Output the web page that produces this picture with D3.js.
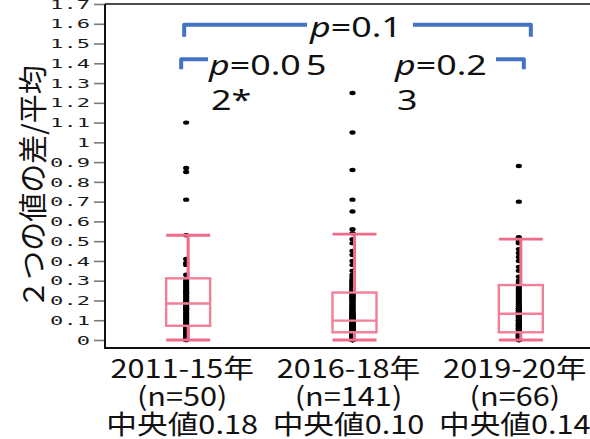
<!DOCTYPE html>
<html><head><meta charset="utf-8">
<script src="https://cdn.jsdelivr.net/npm/d3@7"></script>
<style>html,body{margin:0;padding:0;background:#fff;}svg{display:block;}</style>
</head><body>
<script>
// ---------- data ----------
const categories = ["2011-15年", "2016-18年", "2019-20年"];
const nLabels = ["(n=50)", "(n=141)", "(n=66)"];
const medianLabels = ["中央値0.18", "中央値0.10", "中央値0.14"];
const yTickValues = [0,0.1,0.2,0.3,0.4,0.5,0.6,0.7,0.8,0.9,1,1.1,1.2,1.3,1.4,1.5,1.6,1.7];
const yTickLabels = ["0","0.1","0.2","0.3","0.4","0.5","0.6","0.7","0.8","0.9","1","1.1","1.2","1.3","1.4","1.5","1.6","1.7"];
const yTitle = "２つの値の差/平均";

// box statistics
const whiskerLow = [0, 0, 0];
const q1 = [0.072, 0.039, 0.039];
const median = [0.185, 0.098, 0.133];
const q3 = [0.312, 0.24, 0.278];
const whiskerHigh = [0.53, 0.536, 0.51];

// individual points
const points2011 = [1.10,0.87,0.85,0.71,0.53,0.41,0.39,0.38,0.33,0.31,0.30,0.29,0.28,
  0.27,0.26,0.25,0.24,0.24,0.23,0.22,0.21,0.20,0.19,0.19,0.18,0.18,
  0.17,0.16,0.16,0.15,0.14,0.13,0.12,0.11,0.10,0.09,0.08,
  0.07,0.07,0.06,0.05,0.05,0.04,0.03,0.03,0.02,0.01,0.01,0.00,0.00];
const points2016 = [1.25,1.05,0.86,0.71,0.65,
  0.56,0.54,0.51,0.49,0.45,0.43,0.40,0.38,0.35,0.33,
  0.32,0.31,0.30,0.30,0.29,0.29,0.28,0.28,0.27,0.27,
  0.26,0.26,0.25,0.25,0.25,0.24,0.24,0.24,0.24,0.24,
  0.23,0.23,0.22,0.22,0.22,0.21,0.21,0.20,0.20,0.19,
  0.19,0.18,0.18,0.17,0.17,0.16,0.16,0.15,0.15,0.15,
  0.14,0.14,0.13,0.13,0.13,0.12,0.12,0.12,0.11,0.11,
  0.11,0.11,0.10,0.10,0.10,0.10,
  0.10,0.09,0.09,0.09,0.09,0.08,0.08,0.08,0.08,0.08,
  0.07,0.07,0.07,0.07,0.07,0.06,0.06,0.06,0.06,0.06,
  0.05,0.05,0.05,0.05,0.05,0.05,0.04,0.04,0.04,0.04,
  0.04,0.04,0.04,0.04,0.04,
  0.03,0.03,0.03,0.03,0.03,0.03,0.03,0.03,0.03,0.03,
  0.02,0.02,0.02,0.02,0.02,0.02,0.02,0.02,0.02,0.02,
  0.01,0.01,0.01,0.01,0.01,0.01,0.01,0.01,
  0.00,0.00,0.00,0.00,0.00,0.00,0.00];
const points2019 = [0.88,0.70,
  0.52,0.50,0.49,0.46,0.44,0.42,0.40,0.37,0.35,0.32,0.30,0.29,0.28,0.28,
  0.27,0.26,0.25,0.24,0.23,0.22,0.21,0.20,0.19,0.18,
  0.17,0.16,0.16,0.15,0.15,0.14,0.14,
  0.13,0.12,0.12,0.11,0.10,0.10,0.09,0.08,0.08,0.07,
  0.07,0.06,0.06,0.05,0.05,0.04,0.04,
  0.04,0.03,0.03,0.03,0.02,0.02,0.02,0.01,0.01,0.01,0.00,0.00,0.00,0.00,0.01,0.02];
const pointSets = [points2011, points2016, points2019];

// significance annotations
const pMain = ["p", "=0.1", ""];
const pLeft = ["p", "=0.0", "5"];
const pLeft2 = "2*";
const pRight = ["p", "=0.2", ""];
const pRight2 = "3";

// ---------- chart ----------
const W = 590, H = 439;
const svg = d3.select("body").append("svg").attr("width", W).attr("height", H);

const x = d3.scaleBand().domain(categories).range([105, 604]).padding(0);
const y = d3.scaleLinear().domain([-0.0405, 1.7]).range([348, 4]);
const cx = i => x(categories[i]) + x.bandwidth() / 2;

const PINK = "#F06A8A";
const PINK_BOX = "#F27E98";
const BLUE = "#4472C4";
const txtFont = "'Noto Sans','Noto Sans CJK JP',sans-serif";

// axes frame
svg.append("line").attr("x1", 105).attr("x2", 590).attr("y1", y(1.7)).attr("y2", y(1.7))
  .attr("stroke", "#111").attr("stroke-width", 1.5);

const yAxis = d3.axisLeft(y).tickValues(yTickValues).tickSize(11).tickFormat(() => "");
const ga = svg.append("g").attr("transform", "translate(105,0)").call(yAxis);
ga.select(".domain").remove();
ga.selectAll(".tick line").attr("stroke", "#7a7a7a").attr("stroke-width", 1.6);

// tick labels (wide monospace look)
svg.append("g").selectAll("text").data(yTickValues).join("text")
  .attr("transform", d => `translate(90,${y(d)}) scale(1.7,1)`)
  .attr("text-anchor", "end").attr("dominant-baseline", "central")
  .attr("font-family", "'DejaVu Sans Mono',monospace").attr("font-size", 13)
  .attr("fill", "#1a1a1a")
  .text((d, i) => yTickLabels[i]);

svg.append("line").attr("x1", 105).attr("x2", 105).attr("y1", y(1.7)).attr("y2", 348)
  .attr("stroke", "#111").attr("stroke-width", 2);
svg.append("line").attr("x1", 104).attr("x2", 590).attr("y1", 348).attr("y2", 348)
  .attr("stroke", "#111").attr("stroke-width", 2);

// y title
svg.append("text")
  .attr("transform", `translate(31,187) rotate(-90)`)
  .attr("text-anchor", "middle").attr("dominant-baseline", "central")
  .attr("font-family", "'Noto Sans CJK JP',sans-serif").attr("font-size", 29)
  .attr("fill", "#111").text(yTitle);

// points
pointSets.forEach((pts, i) => {
  svg.append("g").selectAll("ellipse").data(pts).join("ellipse")
    .attr("cx", cx(i) - 2).attr("cy", d => y(d))
    .attr("rx", 3.1).attr("ry", 2.2).attr("fill", "#000");
});

// boxes
const halfW = 22;
categories.forEach((c, i) => {
  const g = svg.append("g");
  const xc = cx(i);
  g.append("line").attr("x1", xc).attr("x2", xc).attr("y1", y(q3[i])).attr("y2", y(whiskerHigh[i]))
    .attr("stroke", PINK).attr("stroke-width", 3);
  g.append("line").attr("x1", xc).attr("x2", xc).attr("y1", y(q1[i])).attr("y2", y(whiskerLow[i]))
    .attr("stroke", PINK).attr("stroke-width", 3);
  g.append("line").attr("x1", xc - halfW).attr("x2", xc + halfW).attr("y1", y(whiskerHigh[i])).attr("y2", y(whiskerHigh[i]))
    .attr("stroke", PINK).attr("stroke-width", 2.8);
  g.append("line").attr("x1", xc - halfW).attr("x2", xc + halfW).attr("y1", y(whiskerLow[i])).attr("y2", y(whiskerLow[i]))
    .attr("stroke", PINK).attr("stroke-width", 2.8);
  g.append("rect").attr("x", xc - halfW).attr("width", 2 * halfW)
    .attr("y", y(q3[i])).attr("height", y(q1[i]) - y(q3[i]))
    .attr("fill", "none").attr("stroke", PINK_BOX).attr("stroke-width", 2.4);
  g.append("line").attr("x1", xc - halfW).attr("x2", xc + halfW).attr("y1", y(median[i])).attr("y2", y(median[i]))
    .attr("stroke", PINK_BOX).attr("stroke-width", 2.4);
});

// x labels
const labelLines = [categories, nLabels, medianLabels];
const lineBase = [378, 406, 434];
labelLines.forEach((arr, li) => {
  svg.append("g").selectAll("text").data(arr).join("text")
    .attr("transform", (d, i) => `translate(${cx(i) - 6},${lineBase[li]}) scale(1.18,1)`)
    .attr("text-anchor", "middle")
    .attr("font-family", "'Noto Sans CJK JP',sans-serif").attr("font-size", 26)
    .attr("fill", "#111").text(d => d);
});

// annotation text helper
function pText(parts, xPos, yPos) {
  const t = svg.append("text")
    .attr("transform", `translate(${xPos},${yPos}) scale(1.28,1)`)
    .attr("font-family", txtFont).attr("font-size", 28).attr("fill", "#111");
  t.append("tspan").attr("font-style", "italic").text(parts[0]);
  t.append("tspan").text(parts[1]);
  if (parts[2]) t.append("tspan").attr("dx", 4).text(parts[2]);
  return t;
}
function plain(s, xPos, yPos) {
  return svg.append("text")
    .attr("transform", `translate(${xPos},${yPos}) scale(1.28,1)`)
    .attr("font-family", txtFont).attr("font-size", 28).attr("fill", "#111").text(s);
}

const bw = 4;
const bigTop = y(1.6) + 1, bigBottom = bigTop + 12;
const smallTop = y(1.42), smallBottom = smallTop + 10;
const xL = cx(0) - 4, xR = cx(2) + 10;

// big bracket
svg.append("path")
  .attr("d", `M${xL},${bigBottom} V${bigTop} H${307}`)
  .attr("fill", "none").attr("stroke", BLUE).attr("stroke-width", bw).attr("stroke-linejoin", "round");
svg.append("path")
  .attr("d", `M${413},${bigTop} H${xR} V${bigBottom}`)
  .attr("fill", "none").attr("stroke", BLUE).attr("stroke-width", bw).attr("stroke-linejoin", "round");
pText(pMain, 310, 37);

// small left bracket
svg.append("path")
  .attr("d", `M${cx(0) - 7},${smallBottom} V${smallTop} H${208}`)
  .attr("fill", "none").attr("stroke", BLUE).attr("stroke-width", bw).attr("stroke-linejoin", "round");
pText(pLeft, 209, 75);
plain(pLeft2, 211, 110);

// small right bracket
svg.append("path")
  .attr("d", `M${496},${smallTop} H${cx(2) + 3} V${smallBottom}`)
  .attr("fill", "none").attr("stroke", BLUE).attr("stroke-width", bw).attr("stroke-linejoin", "round");
pText(pRight, 395, 75);
plain(pRight2, 397, 110);
</script>
</body></html>
